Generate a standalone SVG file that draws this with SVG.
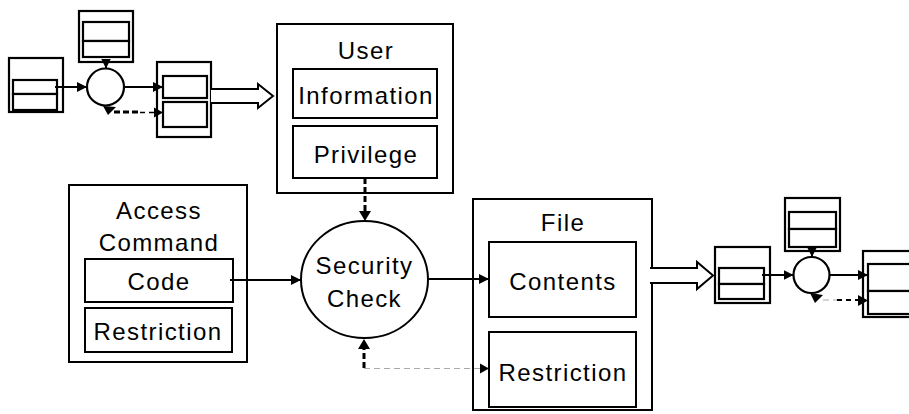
<svg xmlns="http://www.w3.org/2000/svg" width="909" height="414" viewBox="0 0 909 414">
  <style>
    .box { fill: #fff; stroke: #000; stroke-width: 2; }
    .sbox { fill: #fff; stroke: #000; stroke-width: 2.2; }
    .lbl { font-family: "Liberation Sans", Arial, sans-serif; font-size: 24px; letter-spacing: 1.4px; text-anchor: middle; fill: #000; }
    .flow { fill: none; stroke: #000; stroke-width: 2; }
    .dash { fill: none; stroke: #000; stroke-width: 3; stroke-dasharray: 6 3; }
    .thin { fill: none; stroke: #000; stroke-width: 1.5; stroke-dasharray: 5 4; }
    .grey { fill: none; stroke: #aaa; stroke-width: 1; stroke-dasharray: 6 4; }
    .big { fill: #fff; stroke: #000; stroke-width: 2; stroke-linejoin: miter; }
    .head { fill: #000; stroke: none; }
  </style>
  <defs>
    <marker id="tri" markerUnits="userSpaceOnUse" markerWidth="10" markerHeight="10" viewBox="0 0 10 10" refX="10" refY="5" orient="auto">
      <path d="M0,0 L10,5 L0,10 Z" fill="#000"/>
    </marker>
  </defs>

  <!-- small flow sketch, upper left -->
  <g id="tl-source">
    <rect class="sbox" x="9" y="58" width="54" height="54"/>
    <rect class="sbox" x="13" y="80" width="44" height="14"/>
    <rect class="sbox" x="13" y="94" width="44" height="16"/>
  </g>
  <g id="tl-top">
    <rect class="sbox" x="79" y="11" width="54" height="51"/>
    <rect class="sbox" x="83" y="22" width="46" height="19"/>
    <rect class="sbox" x="83" y="41" width="46" height="16"/>
  </g>
  <g id="tl-process">
    <circle class="sbox" cx="105.5" cy="87" r="18.5"/>
  </g>
  <g id="tl-target">
    <rect class="sbox" x="157" y="62" width="54" height="75"/>
    <rect class="sbox" x="163" y="76" width="44" height="22"/>
    <rect class="sbox" x="163" y="102" width="44" height="25"/>
  </g>

  <!-- User -->
  <g id="user">
    <rect class="box" x="277" y="24" width="176" height="169"/>
    <text class="lbl" x="366" y="59">User</text>
    <rect class="box" x="293" y="69" width="144" height="49"/>
    <text class="lbl" x="366" y="104">Information</text>
    <rect class="box" x="293" y="126" width="144" height="52"/>
    <text class="lbl" x="366" y="163">Privilege</text>
  </g>

  <!-- Access Command -->
  <g id="access-command">
    <rect class="box" x="69" y="185" width="178" height="177"/>
    <text class="lbl" x="159" y="219">Access</text>
    <text class="lbl" x="159" y="251">Command</text>
    <rect class="box" x="85" y="259" width="148" height="43"/>
    <text class="lbl" x="159" y="290">Code</text>
    <rect class="box" x="85" y="308" width="147" height="44"/>
    <text class="lbl" x="158" y="340">Restriction</text>
  </g>

  <!-- Security Check -->
  <g id="security-check">
    <ellipse class="box" cx="364.5" cy="279.5" rx="63.5" ry="58.5"/>
    <text class="lbl" x="364.5" y="274">Security</text>
    <text class="lbl" x="364.5" y="307">Check</text>
  </g>

  <!-- File -->
  <g id="file">
    <rect class="box" x="473" y="199" width="179" height="211"/>
    <text class="lbl" x="563" y="231">File</text>
    <rect class="box" x="489" y="242" width="147" height="75"/>
    <text class="lbl" x="563" y="290">Contents</text>
    <rect class="box" x="489" y="332" width="147" height="75"/>
    <text class="lbl" x="563" y="381">Restriction</text>
  </g>

  <!-- small flow sketch, right -->
  <g id="r-source">
    <rect class="sbox" x="715" y="247" width="55" height="56"/>
    <rect class="sbox" x="719" y="268" width="45" height="16"/>
    <rect class="sbox" x="719" y="284" width="45" height="15"/>
  </g>
  <g id="r-top">
    <rect class="sbox" x="785" y="198" width="55" height="53"/>
    <rect class="sbox" x="789" y="212" width="47" height="17"/>
    <rect class="sbox" x="789" y="229" width="47" height="18"/>
  </g>
  <g id="r-process">
    <circle class="sbox" cx="811.5" cy="275" r="18"/>
  </g>
  <g id="r-target">
    <rect class="sbox" x="863" y="251" width="52" height="66"/>
    <rect class="sbox" x="868" y="264" width="47" height="27"/>
    <rect class="sbox" x="868" y="291" width="47" height="23"/>
  </g>

  <g id="connectors">
    <!-- upper-left sketch -->
    <line class="flow" x1="55" y1="87" x2="87" y2="87" marker-end="url(#tri)"/>
    <line class="flow" x1="106" y1="62" x2="106" y2="68.5" marker-end="url(#tri)"/>
    <line class="flow" x1="124" y1="87" x2="163" y2="87" marker-end="url(#tri)"/>
    <path class="head" d="M103,106 L116,107 L108,115 Z"/>
    <line class="dash" x1="114" y1="112" x2="140" y2="112"/>
    <line class="thin" x1="140" y1="112.5" x2="154" y2="112.5"/>
    <path class="head" d="M154,107.5 L163,112.5 L154,117.5 Z"/>
    <path class="big" d="M211,89 L258,89 L258,84 L273,96 L258,108 L258,103 L211,103"/>

    <!-- main flow -->
    <line class="dash" x1="365" y1="178" x2="365" y2="212"/>
    <path class="head" d="M359,211 L371,211 L365,221 Z"/>
    <line class="flow" x1="230" y1="280" x2="301" y2="280" marker-end="url(#tri)"/>
    <line class="flow" x1="428" y1="279" x2="489" y2="279" marker-end="url(#tri)"/>
    <line class="dash" x1="364" y1="368" x2="364" y2="348"/>
    <path class="head" d="M358,349 L370,349 L364,339 Z"/>
    <line class="grey" x1="364" y1="368.5" x2="482" y2="368.5"/>
    <path class="head" d="M480,363.5 L489,368.5 L480,373.5 Z"/>
    <path class="big" d="M650,268 L697,268 L697,262 L713,275.5 L697,289 L697,283 L650,283"/>

    <!-- right sketch -->
    <line class="flow" x1="762" y1="275" x2="793.5" y2="275" marker-end="url(#tri)"/>
    <line class="flow" x1="812" y1="251" x2="812" y2="257" marker-end="url(#tri)"/>
    <line class="flow" x1="830" y1="275" x2="868" y2="275" marker-end="url(#tri)"/>
    <path class="head" d="M810,293 L823,295 L815,303 Z"/>
    <line class="grey" x1="823" y1="300" x2="837" y2="300"/>
    <line class="thin" x1="837" y1="300" x2="860" y2="300" style="stroke-width:2.2"/>
    <path class="head" d="M858,295 L868,300.5 L858,306 Z"/>
  </g>
</svg>
